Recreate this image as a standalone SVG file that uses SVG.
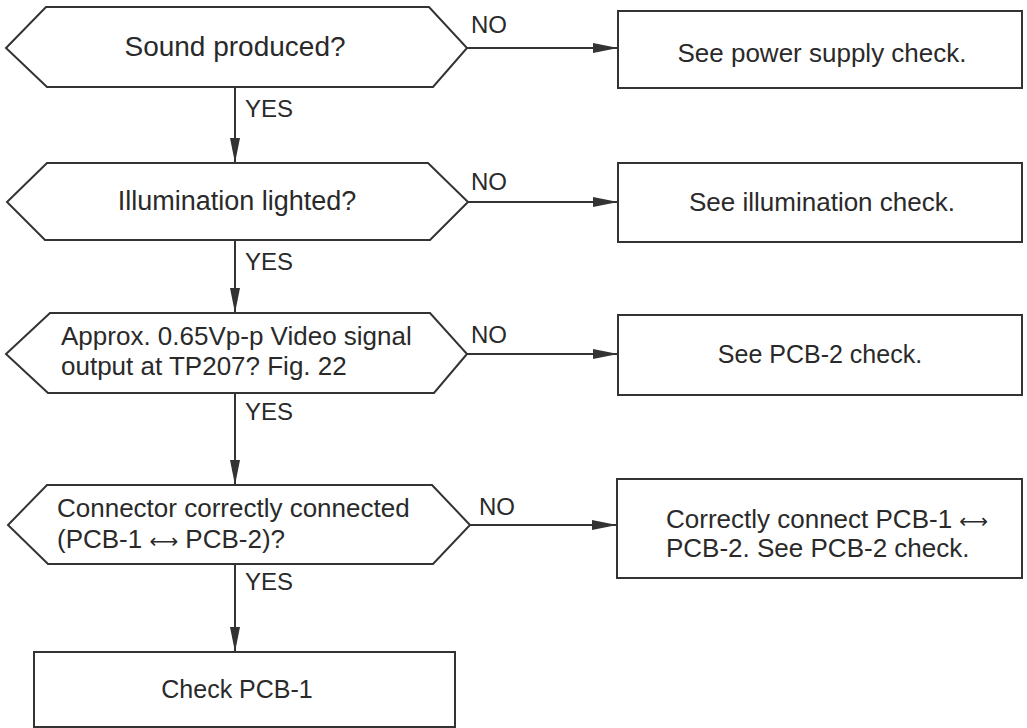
<svg xmlns="http://www.w3.org/2000/svg" width="1027" height="728" viewBox="0 0 1027 728">
<defs>
<style>
.shape{fill:#fff;stroke:#333;stroke-width:2;stroke-linejoin:miter}
.conn{fill:none;stroke:#333;stroke-width:2}
.t{font-family:"Liberation Sans",Arial,sans-serif;fill:#2a2a2a}
.lbl{font-family:"Liberation Sans",Arial,sans-serif;fill:#2a2a2a;font-size:24px}
.arr{font-family:"DejaVu Sans",sans-serif;font-size:20px}
</style>
<marker id="ah" markerUnits="userSpaceOnUse" markerWidth="26" markerHeight="12" refX="25" refY="5" orient="auto">
<path d="M0,0 L25,5 L0,10 Z" fill="#333"/>
</marker>
</defs>
<rect width="1027" height="728" fill="#fff"/>

<g id="connectors">
<line class="conn" x1="235" y1="87" x2="235" y2="163" marker-end="url(#ah)"/>
<line class="conn" x1="235" y1="240" x2="235" y2="313" marker-end="url(#ah)"/>
<line class="conn" x1="235" y1="393" x2="235" y2="485" marker-end="url(#ah)"/>
<line class="conn" x1="235" y1="564" x2="235" y2="652" marker-end="url(#ah)"/>
<line class="conn" x1="467" y1="48" x2="618" y2="48" marker-end="url(#ah)"/>
<line class="conn" x1="468" y1="202" x2="618" y2="202" marker-end="url(#ah)"/>
<line class="conn" x1="467" y1="354" x2="618" y2="354" marker-end="url(#ah)"/>
<line class="conn" x1="470" y1="525" x2="617" y2="525" marker-end="url(#ah)"/>
<text class="lbl" x="471" y="33">NO</text>
<text class="lbl" x="471" y="190">NO</text>
<text class="lbl" x="471" y="343">NO</text>
<text class="lbl" x="479" y="515">NO</text>
<text class="lbl" x="245" y="117">YES</text>
<text class="lbl" x="245" y="270">YES</text>
<text class="lbl" x="245" y="420">YES</text>
<text class="lbl" x="245" y="590">YES</text>
</g>

<g id="q1">
<polygon class="shape" points="46,7 429,7 467,48 433,87 47,87 6,48"/>
<text class="t" x="235" y="56" font-size="28" text-anchor="middle">Sound produced?</text>
</g>
<g id="q2">
<polygon class="shape" points="47,163 428,163 468,202 430,240 45,240 7,202"/>
<text class="t" x="237" y="210" font-size="27" text-anchor="middle">Illumination lighted?</text>
</g>
<g id="q3">
<polygon class="shape" points="50,313 430,313 467,354 434,393 48,393 6,354"/>
<text class="t" x="61" y="345" font-size="26">Approx. 0.65Vp-p Video signal</text>
<text class="t" x="61" y="375" font-size="26">output at TP207? Fig. 22</text>
</g>
<g id="q4">
<polygon class="shape" points="47,485 432,485 470,525 433,564 48,564 8,525"/>
<text class="t" x="57" y="517" font-size="26">Connector correctly connected</text>
<text class="t" x="57" y="548" font-size="26">(PCB-1 <tspan class="arr">⟷</tspan> PCB-2)?</text>
</g>

<g id="a1">
<rect class="shape" x="618" y="11" width="404" height="77"/>
<text class="t" x="822" y="62" font-size="26" text-anchor="middle">See power supply check.</text>
</g>
<g id="a2">
<rect class="shape" x="618" y="163" width="404" height="79"/>
<text class="t" x="822" y="211" font-size="26" text-anchor="middle">See illumination check.</text>
</g>
<g id="a3">
<rect class="shape" x="618" y="315" width="404" height="80"/>
<text class="t" x="820" y="363" font-size="25" text-anchor="middle">See PCB-2 check.</text>
</g>
<g id="a4">
<rect class="shape" x="617" y="479" width="405" height="99"/>
<text class="t" x="666" y="528" font-size="26">Correctly connect PCB-1 <tspan class="arr">⟷</tspan></text>
<text class="t" x="666" y="557" font-size="26">PCB-2. See PCB-2 check.</text>
</g>
<g id="end">
<rect class="shape" x="34" y="652" width="421" height="75"/>
<text class="t" x="237" y="698" font-size="25" text-anchor="middle">Check PCB-1</text>
</g>
</svg>
